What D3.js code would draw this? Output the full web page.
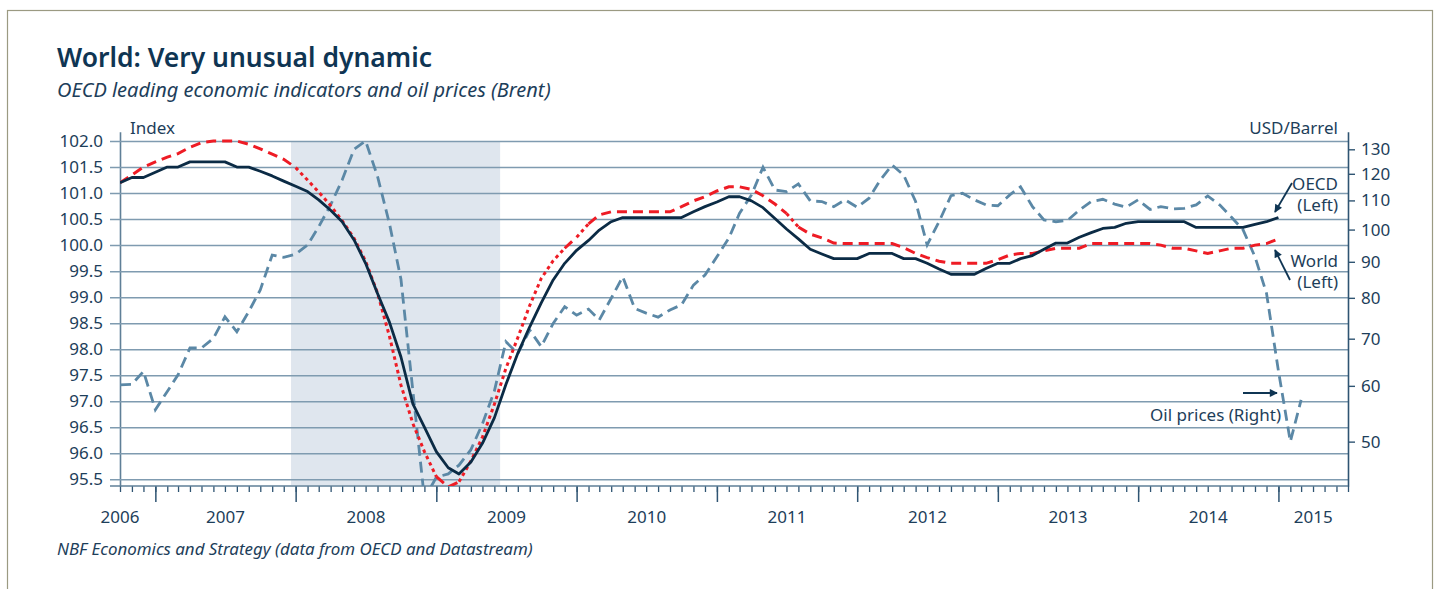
<!DOCTYPE html>
<html>
<head>
<meta charset="utf-8">
<script src="https://cdn.jsdelivr.net/npm/d3@7"></script>
<style>
  body { margin: 0; background: #ffffff; }
  svg { display: block; font-family: "Noto Sans", "Open Sans", sans-serif; }
</style>
</head>
<body>
<div id="chart"></div>
<script>
// Monthly series, first value = October 2006
var startMonth = "2006-10-01";
var endMonth = "2015-07-01";

// OECD leading indicator (left axis)
var oecd = [
  101.2, 101.3, 101.3, 101.4, 101.5, 101.5, 101.6, 101.6, 101.6, 101.6, 101.5, 101.5,
  101.42, 101.33, 101.23, 101.13, 101.03, 100.87, 100.67, 100.45, 100.1, 99.65, 99.07, 98.52,
  97.85, 96.95, 96.5, 96.03, 95.72, 95.6, 95.83, 96.19, 96.68, 97.32, 97.92, 98.43,
  98.89, 99.33, 99.65, 99.9, 100.09, 100.29, 100.45, 100.53, 100.53, 100.53, 100.53, 100.53,
  100.53, 100.64, 100.74, 100.83, 100.93, 100.93, 100.85, 100.72, 100.51, 100.31, 100.12, 99.92,
  99.83, 99.74, 99.74, 99.74, 99.84, 99.84, 99.84, 99.74, 99.74, 99.65, 99.54, 99.44,
  99.44, 99.44, 99.55, 99.65, 99.65, 99.74, 99.8, 99.92, 100.04, 100.04, 100.15, 100.24,
  100.32, 100.34, 100.42, 100.45, 100.45, 100.45, 100.45, 100.45, 100.34, 100.34, 100.34, 100.34,
  100.34, 100.4, 100.45, 100.53
];

// World leading indicator (left axis)
var world = [
  101.2, 101.35, 101.5, 101.6, 101.69, 101.76, 101.88, 101.97, 102.0, 102.0, 102.0, 101.94,
  101.85, 101.75, 101.65, 101.49, 101.25, 101.02, 100.76, 100.47, 100.13, 99.69, 99.08, 98.25,
  97.31, 96.57, 96.03, 95.55, 95.35, 95.45, 95.85, 96.31, 96.94, 97.63, 98.22, 98.84,
  99.36, 99.7, 99.94, 100.15, 100.41, 100.58, 100.64, 100.64, 100.64, 100.64, 100.64, 100.64,
  100.74, 100.85, 100.93, 101.04, 101.12, 101.12, 101.07, 100.95, 100.79, 100.61, 100.35, 100.21,
  100.14, 100.04, 100.03, 100.03, 100.03, 100.03, 100.03, 99.95, 99.84, 99.76, 99.69, 99.65,
  99.65, 99.65, 99.65, 99.72, 99.81, 99.84, 99.84, 99.89, 99.94, 99.94, 99.94, 100.03,
  100.03, 100.03, 100.03, 100.03, 100.03, 100.0, 99.94, 99.94, 99.89, 99.84, 99.89, 99.94,
  99.94, 100.0, 100.03, 100.12
];

// Brent, USD/barrel (right axis)
var oil = [
  60.2, 60.3, 62.9, 55.5, 58.9, 62.2, 67.9, 67.9, 70.1, 75.2, 71.6, 76.5,
  82.1, 92.0, 91.3, 92.3, 95.1, 100.9, 108.4, 117.6, 130, 133.6, 119, 102,
  85, 59, 41.5, 44.5, 45, 46.3, 48.7, 53, 59, 69.3, 66.7, 72.0,
  68.2, 73.6, 77.7, 75.6, 77.1, 74.4, 79.9, 85.7, 77.3, 76.1, 75.1, 76.9,
  78.2, 83.4, 86.2, 91.5, 97.2, 105.5, 112.0, 122.6, 113.8, 113.2, 116.1, 109.8,
  109.6, 107.8, 110.2, 107.6, 110.8, 117.6, 123.5, 119.5, 109.6, 95.1, 102.6, 111.7,
  112.6, 110.2, 108.4, 108.1, 112.0, 115.0, 107.8, 103.2, 102.6, 103, 106.6, 109.6,
  110.4, 108.7, 107.6, 110.2, 106.8, 107.8, 107, 107.2, 108.4, 111.6, 108.4, 104.1,
  99.9, 91.5, 81.2, 63, 50, 57.3
];

var leftTicks = [95.5, 96.0, 96.5, 97.0, 97.5, 98.0, 98.5, 99.0, 99.5, 100.0, 100.5, 101.0, 101.5, 102.0];
var rightTicks = [50, 60, 70, 80, 90, 100, 110, 120, 130];
var years = ["2006", "2007", "2008", "2009", "2010", "2011", "2012", "2013", "2014", "2015"];
var recession = ["2007-12-20", "2009-06-16"];

// Chart set up
var svgWidth = 1440;
var svgHeight = 589;

var margin = { top: 131.7, right: 92, bottom: 103, left: 120 };
var width = svgWidth - margin.left - margin.right;
var height = svgHeight - margin.top - margin.bottom;

var navy = "#0f3553";
var textCol = "#1d3e5a";
var gridCol = "#7f9bb0";

var parseDate = d3.timeParse("%Y-%m-%d");
var months = oil.map(function(d, i) { return d3.timeMonth.offset(parseDate(startMonth), i); });

var svg = d3.select("#chart")
  .append("svg")
  .attr("width", svgWidth)
  .attr("height", svgHeight);

// frame
svg.append("rect")
  .attr("x", 7.5).attr("y", 10.5)
  .attr("width", 1425).attr("height", 620)
  .attr("fill", "none")
  .attr("stroke", "#9b9a82")
  .attr("stroke-width", 1.2);

// titles
function fitWidth(sel, w) {
  var fs = parseFloat(sel.style("font-size"));
  var len = sel.node().getComputedTextLength();
  sel.style("font-size", (fs * w / len) + "px");
}

var title = svg.append("text")
  .attr("x", 57).attr("y", 67)
  .attr("fill", navy)
  .style("font-size", "27px")
  .style("font-weight", 600)
  .text("World: Very unusual dynamic");
fitWidth(title, 375);

var subtitle = svg.append("text")
  .attr("x", 57).attr("y", 97)
  .attr("fill", textCol)
  .style("font-size", "18px")
  .style("font-style", "italic")
  .text("OECD leading economic indicators and oil prices (Brent)");
fitWidth(subtitle, 494);

var footer = svg.append("text")
  .attr("x", 57).attr("y", 555)
  .attr("fill", textCol)
  .style("font-size", "15px")
  .style("font-style", "italic")
  .text("NBF Economics and Strategy (data from OECD and Datastream)");
fitWidth(footer, 476);

var chartGroup = svg.append("g")
  .attr("transform", `translate(${margin.left}, ${margin.top})`);

// scales
var xTimeScale = d3.scaleTime()
  .domain([parseDate(startMonth), parseDate(endMonth)])
  .range([0, width]);

var yLeftScale = d3.scaleLinear()
  .domain([95.37, 102.18])
  .range([height, 0]);

var yRightScale = d3.scaleLog()
  .domain([43.25, 137.7])
  .range([height, 0]);

// recession shading
chartGroup.append("rect")
  .attr("x", xTimeScale(parseDate(recession[0])))
  .attr("y", yLeftScale(102))
  .attr("width", xTimeScale(parseDate(recession[1])) - xTimeScale(parseDate(recession[0])))
  .attr("height", height - yLeftScale(102) - 1)
  .attr("fill", "#dfe6ee");

// left axis + gridlines
var leftAxis = d3.axisLeft(yLeftScale)
  .tickValues(leftTicks)
  .tickFormat(d3.format(".1f"))
  .tickSizeInner(-width)
  .tickSizeOuter(0)
  .tickPadding(17);

var leftG = chartGroup.append("g").call(leftAxis);
leftG.selectAll(".tick line")
  .attr("x1", -10)
  .attr("stroke", gridCol)
  .attr("stroke-width", 1.5);
leftG.select(".domain").attr("stroke", "#5f7f97").attr("stroke-width", 1.6);
leftG.selectAll("text")
  .attr("fill", textCol)
  .style("font-size", "17px")
  .style("font-family", "Noto Sans");

// right axis
var rightAxis = d3.axisRight(yRightScale)
  .tickValues(rightTicks)
  .tickFormat(d3.format("d"))
  .tickSizeInner(7)
  .tickSizeOuter(0)
  .tickPadding(6);

var rightG = chartGroup.append("g")
  .attr("transform", `translate(${width}, 0)`)
  .call(rightAxis);
rightG.selectAll(".tick line").attr("stroke", "#2f5472").attr("stroke-width", 1.4);
rightG.select(".domain").attr("stroke", "#2f5472").attr("stroke-width", 1.6);
rightG.selectAll("text")
  .attr("fill", textCol)
  .style("font-size", "17px")
  .style("font-family", "Noto Sans");

// bottom axis: monthly and yearly ticks
var minorAxis = d3.axisBottom(xTimeScale)
  .ticks(d3.timeMonth.every(1))
  .tickSize(6)
  .tickFormat("");
var majorAxis = d3.axisBottom(xTimeScale)
  .ticks(d3.timeYear.every(1))
  .tickSize(16)
  .tickFormat("");

var minorG = chartGroup.append("g")
  .attr("transform", `translate(0, ${height})`)
  .call(minorAxis);
var majorG = chartGroup.append("g")
  .attr("transform", `translate(0, ${height})`)
  .call(majorAxis);
minorG.select(".domain").remove();
majorG.select(".domain").remove();
minorG.selectAll("line").attr("stroke", "#2f5472").attr("stroke-width", 1.3);
majorG.selectAll("line").attr("stroke", "#2f5472").attr("stroke-width", 1.5);

chartGroup.append("line")
  .attr("x1", -10).attr("x2", width)
  .attr("y1", height).attr("y2", height)
  .attr("stroke", "#5f7f97")
  .attr("stroke-width", 1.5);

// year labels: mid-year, the first one at the axis start
var x0 = parseDate(startMonth), x1 = parseDate(endMonth);
chartGroup.append("g").selectAll("text")
  .data(years)
  .enter()
  .append("text")
  .attr("x", function(d) {
    var a = parseDate(d + "-01-01"), b = parseDate((+d + 1) + "-01-01");
    if (a < x0) return xTimeScale(x0);
    if (b > x1) b = x1;
    return (xTimeScale(a) + xTimeScale(b)) / 2;
  })
  .attr("y", height + 37)
  .attr("text-anchor", "middle")
  .attr("fill", textCol)
  .style("font-size", "17px")
  .text(function(d) { return d; });

// axis titles
chartGroup.append("text")
  .attr("x", 10).attr("y", 2)
  .attr("fill", textCol)
  .style("font-size", "17px")
  .text("Index");

chartGroup.append("text")
  .attr("x", width - 10).attr("y", 2)
  .attr("text-anchor", "end")
  .attr("fill", textCol)
  .style("font-size", "17px")
  .text("USD/Barrel");

// clip
chartGroup.append("clipPath").attr("id", "clip")
  .append("rect").attr("x", 0).attr("y", 0).attr("width", width).attr("height", height);

var lines = chartGroup.append("g").attr("clip-path", "url(#clip)");

// oil prices
var oilLine = d3.line()
  .x(function(d, i) { return xTimeScale(months[i]); })
  .y(function(d) { return yRightScale(d); });

lines.append("path")
  .datum(oil)
  .attr("d", oilLine)
  .attr("fill", "none")
  .attr("stroke", "#5b88a6")
  .attr("stroke-width", 2.8)
  .attr("stroke-dasharray", "11,6");

// world: dashed where flat, dotted where steep
var worldPts = world.map(function(v, i) { return [xTimeScale(months[i]), yLeftScale(v)]; });
var runs = [];
d3.pairs(worldPts).forEach(function(s) {
  var steep = Math.abs(s[1][1] - s[0][1]) > Math.abs(s[1][0] - s[0][0]);
  var last = runs[runs.length - 1];
  if (last && last.steep === steep) last.pts.push(s[1]);
  else runs.push({ steep: steep, pts: [s[0], s[1]] });
});

lines.selectAll(".world")
  .data(runs)
  .enter()
  .append("path")
  .attr("class", "world")
  .attr("d", function(r) { return d3.line()(r.pts); })
  .attr("fill", "none")
  .attr("stroke", "#ee1c25")
  .attr("stroke-width", 3)
  .attr("stroke-dasharray", function(r) { return r.steep ? "3.5,3.5" : "10,6"; });

// OECD
var oecdLine = d3.line()
  .x(function(d, i) { return xTimeScale(months[i]); })
  .y(function(d) { return yLeftScale(d); });

lines.append("path")
  .datum(oecd)
  .attr("d", oecdLine)
  .attr("fill", "none")
  .attr("stroke", "#0b2b45")
  .attr("stroke-width", 2.8)
  .attr("stroke-linejoin", "round");

// annotations
svg.append("defs").append("marker")
  .attr("id", "arrow")
  .attr("viewBox", "0 0 10 10")
  .attr("refX", 9).attr("refY", 5)
  .attr("markerWidth", 10).attr("markerHeight", 8)
  .attr("markerUnits", "userSpaceOnUse")
  .attr("orient", "auto")
  .append("path")
  .attr("d", "M0,0 L10,5 L0,10 Z")
  .attr("fill", navy);

function arrow(xa, ya, xb, yb) {
  svg.append("line")
    .attr("x1", xa).attr("y1", ya).attr("x2", xb).attr("y2", yb)
    .attr("stroke", navy)
    .attr("stroke-width", 1.8)
    .attr("marker-end", "url(#arrow)");
}

function note(txt, xa, ya) {
  svg.append("text")
    .attr("x", xa).attr("y", ya)
    .attr("text-anchor", "end")
    .attr("fill", textCol)
    .style("font-size", "17px")
    .text(txt);
}

note("OECD", 1338, 190);
note("(Left)", 1338, 211);
arrow(1292, 183, 1275, 212);

note("World", 1338, 267);
note("(Left)", 1338, 288);
arrow(1290, 280, 1275, 250);

note("Oil prices (Right)", 1281, 421);
arrow(1243, 393, 1277, 393);
</script>
</body>
</html>
